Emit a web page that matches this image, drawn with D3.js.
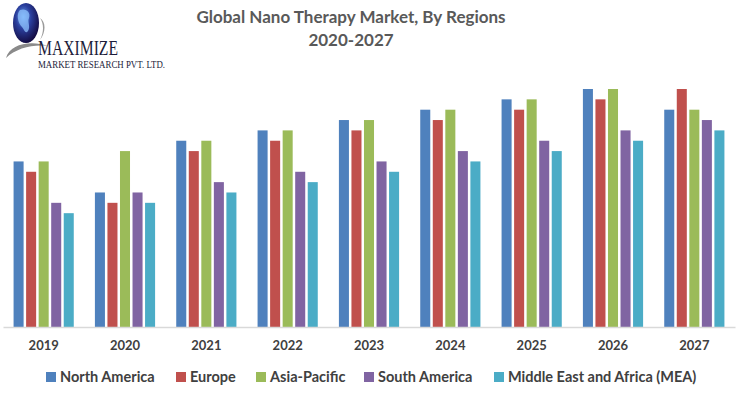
<!DOCTYPE html>
<html>
<head>
<meta charset="utf-8">
<script src="https://cdn.jsdelivr.net/npm/d3@7"></script>
<style>
  html, body { margin: 0; padding: 0; background: #fff; }
  svg { display: block; }
</style>
</head>
<body>
<div id="chart"></div>
<script>
// years on the x axis
var years = ["2019", "2020", "2021", "2022", "2023", "2024", "2025", "2026", "2027"];
var regions = ["North America", "Europe", "Asia-Pacific", "South America", "Middle East and Africa (MEA)"];

// values (relative units)
var northAmerica = [16, 13, 18, 19, 20, 21, 22, 23, 21];
var europe       = [15, 12, 17, 18, 19, 20, 21, 22, 23];
var asiaPacific  = [16, 17, 18, 19, 20, 21, 22, 23, 21];
var southAmerica = [12, 13, 14, 15, 16, 17, 18, 19, 20];
var mea          = [11, 12, 13, 14, 15, 16, 17, 18, 19];

var colors = ["#4f81bd", "#c0504d", "#9bbb59", "#8064a2", "#4bacc6"];

var seriesValues = [northAmerica, europe, asiaPacific, southAmerica, mea];

var width = 739, height = 397;
var font = "Lato, 'Open Sans', sans-serif";

var svg = d3.select("#chart").append("svg")
  .attr("width", width)
  .attr("height", height);

// ---- logo (top left) ----
var defs = svg.append("defs");
var grad = defs.append("radialGradient").attr("id", "globe")
  .attr("cx", "40%").attr("cy", "35%").attr("r", "65%");
grad.append("stop").attr("offset", "0%").attr("stop-color", "#6fa8f0");
grad.append("stop").attr("offset", "45%").attr("stop-color", "#2a3f9e");
grad.append("stop").attr("offset", "100%").attr("stop-color", "#140d45");

var logo = svg.append("g").attr("class", "logo");
logo.append("path")
  .attr("d", "M6,58 C10,44 30,40 48,46 C34,44 16,48 6,58 Z")
  .attr("fill", "#8a8a8a");
logo.append("ellipse")
  .attr("cx", 26).attr("cy", 23).attr("rx", 13).attr("ry", 20)
  .attr("fill", "url(#globe)");
logo.append("path")
  .attr("d", "M20,10 C26,8 31,12 29,18 C27,22 31,26 28,31 C25,35 24,28 21,26 C18,22 16,14 20,10 Z")
  .attr("fill", "#8fc3ff").attr("opacity", 0.75);
logo.append("path")
  .attr("d", "M40,18 C46,22 46,32 40,40 C44,32 44,24 40,18 Z")
  .attr("fill", "#9a9a9a");
// tall, narrow serif word mark: drawn small and stretched up
logo.append("text")
  .attr("transform", "translate(38,55) scale(1,1.3)")
  .attr("textLength", 80).attr("lengthAdjust", "spacingAndGlyphs")
  .style("font-family", "'Liberation Serif', 'DejaVu Serif', serif")
  .style("font-size", "15.5px")
  .attr("fill", "#1c1c3a")
  .text("MAXIMIZE");
logo.append("text")
  .attr("transform", "translate(38,68) scale(1,1.2)")
  .attr("textLength", 127).attr("lengthAdjust", "spacingAndGlyphs")
  .style("font-family", "'Liberation Serif', 'DejaVu Serif', serif")
  .style("font-size", "8.8px")
  .attr("fill", "#1c1c3a")
  .text("MARKET RESEARCH PVT. LTD.");

// ---- title ----
svg.append("text")
  .attr("x", 351).attr("y", 23)
  .attr("text-anchor", "middle")
  .style("font-family", font).style("font-weight", "bold").style("font-size", "17px")
  .attr("fill", "#595959")
  .text("Global Nano Therapy Market, By Regions");
svg.append("text")
  .attr("x", 351).attr("y", 46)
  .attr("text-anchor", "middle")
  .style("font-family", font).style("font-weight", "bold").style("font-size", "17px")
  .attr("fill", "#595959")
  .text("2020-2027");

// ---- scales ----
var x0 = d3.scaleBand()
  .domain(years)
  .range([3, 735])
  .paddingInner(0.26)
  .paddingOuter(0.13);

var x1 = d3.scaleBand()
  .domain(regions)
  .range([0, x0.bandwidth()])
  .paddingInner(0.2);

var y = d3.scaleLinear()
  .domain([0, 23])
  .range([327, 89]);

// ---- bars ----
var groups = svg.append("g").selectAll("g")
  .data(years)
  .enter().append("g")
  .attr("transform", function(d) { return "translate(" + x0(d) + ",0)"; });

groups.selectAll("rect")
  .data(function(d, i) {
    return regions.map(function(r, k) { return {region: r, value: seriesValues[k][i], k: k}; });
  })
  .enter().append("rect")
  .attr("x", function(d) { return x1(d.region); })
  .attr("width", x1.bandwidth())
  .attr("y", function(d) { return y(d.value); })
  .attr("height", function(d) { return y(0) - y(d.value); })
  .attr("fill", function(d) { return colors[d.k]; });

// ---- x axis ----
var xAxis = svg.append("g")
  .attr("transform", "translate(0," + y(0) + ")")
  .call(d3.axisBottom(x0).tickSize(0).tickPadding(14));
xAxis.select(".domain").attr("stroke", "#d9d9d9").attr("stroke-width", 1.5);
xAxis.selectAll("text")
  .style("font-family", font).style("font-weight", "bold").style("font-size", "13px")
  .attr("fill", "#404040");

// ---- legend ----
var legendX = [46, 176, 256, 364, 494];
var legend = svg.append("g").selectAll("g")
  .data(regions)
  .enter().append("g")
  .attr("transform", function(d, i) { return "translate(" + legendX[i] + ",372)"; });
legend.append("rect")
  .attr("width", 10).attr("height", 10)
  .attr("fill", function(d, i) { return colors[i]; });
legend.append("text")
  .attr("x", 14).attr("y", 10)
  .style("font-family", font).style("font-weight", "bold").style("font-size", "14.5px")
  .attr("fill", "#404040")
  .text(function(d) { return d; });
</script>
</body>
</html>
